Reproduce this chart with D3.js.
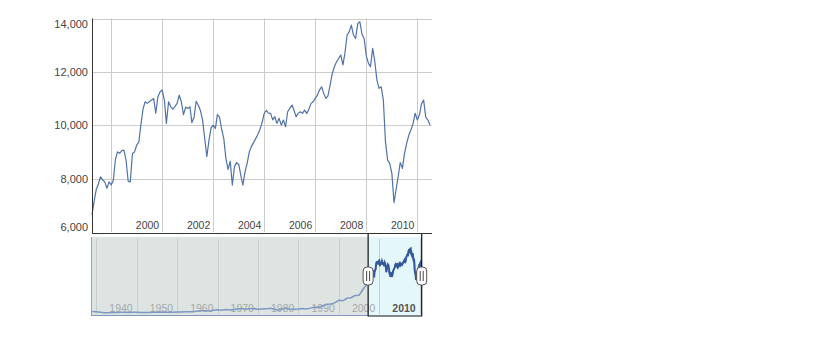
<!DOCTYPE html>
<html><head><meta charset="utf-8">
<script src="https://cdn.jsdelivr.net/npm/d3@7"></script>
<style>
html,body{margin:0;padding:0;background:#fff;}
svg{display:block;font-family:"Liberation Sans",Arial,sans-serif;}
</style></head>
<body><svg id="c" width="813" height="346"></svg>
<script>
// Monthly closes, April 1997 .. July 2010
const firstMonth = "1997-04";
const values = [
 6640,7150,7600,7800,8070,7950,7880,7640,7880,
 7760,7950,8700,9000,8950,9050,9070,8700,7900,7880,8940,9000,
 9260,9380,10000,10600,10880,10820,10880,10950,11000,10450,11070,11250,
 11320,10940,10070,10880,10700,10600,10700,10820,11130,10880,10400,10680,
 10630,10690,10100,10300,10900,10750,10550,10200,9500,8820,9445,9900,
 10000,9880,10400,10300,9850,9500,8750,8350,8650,7760,8450,8600,
 8530,8100,7760,8250,8570,9000,9200,9350,9500,9650,9850,10100,
 10450,10560,10450,10445,10200,10320,10070,10260,10007,10195,9944,10505,
 10632,10756,10569,10318,10445,10505,10445,10569,10445,10600,10819,10880,
 11007,11130,11318,11442,11194,11007,11100,11500,11940,12190,12380,12500,
 12630,12260,12700,13380,13500,13750,13380,13250,13816,13876,13400,13250,
 12600,12318,12191,12880,12400,11692,11382,11442,10943,9400,8700,8571,
 8198,7097,7573,8071,8600,8385,8944,9320,9633,9820,10071,10450,
 10195,10400,10800,10943,10300,10195,10007
];
// Long-range history for the overview strip (yearly)
const histYears = [1929,1930,1931,1932,1933,1934,1935,1936,1937,1938,1939,1940,1941,1942,1943,1944,1945,1946,1947,1948,1949,
 1950,1951,1952,1953,1954,1955,1956,1957,1958,1959,1960,1961,1962,1963,1964,1965,1966,1967,1968,1969,
 1970,1971,1972,1973,1974,1975,1976,1977,1978,1979,1980,1981,1982,1983,1984,1985,1986,1987,1988,1989,
 1990,1991,1992,1993,1994,1995,1996];
const histValues = [300,248,165,78,60,100,104,144,180,121,155,150,131,111,119,136,152,193,177,181,177,
 200,235,269,292,281,404,488,500,436,584,679,616,731,652,763,874,969,786,905,944,
 800,839,890,1020,851,616,852,1005,831,805,839,964,875,1047,1259,1212,1547,1896,1939,2169,
 2753,2634,3169,3301,3754,3834,5117];
const yTicks = [6000,8000,10000,12000,14000];
const xTickYears = [1998,2000,2002,2004,2006,2008,2010];
const xLabelYears = [2000,2002,2004,2006,2008,2010];
const navTickYears = [1930,1940,1950,1960,1970,1980,1990,2000,2010];
const navLabelYears = [1940,1950,1960,1970,1980,1990,2000,2010];

const parseM = d3.timeParse("%Y-%m");
const start = parseM(firstMonth);
const data = values.map((v,i)=>({date:d3.timeMonth.offset(start,i), value:v}));
const hist = histYears.map((y,i)=>({date:new Date(y,0,1), value:histValues[i]}));
const all = hist.concat(data);

const svg = d3.select("#c");
const L=92, R=430, T=18.5, B=232;

const x = d3.scaleTime().domain([data[0].date, data[data.length-1].date]).range([L,R]);
const y = d3.scaleLinear().domain([6000,14000]).range([B,T]);
const fmt = d3.format(",");

// gridlines
const g = svg.append("g");
g.selectAll("line.h").data(yTicks.filter(v=>v>6000)).join("line")
 .attr("x1",L).attr("x2",432).attr("y1",d=>Math.round(y(d))+0.5).attr("y2",d=>Math.round(y(d))+0.5)
 .attr("stroke","#cccccc");
g.selectAll("line.v").data(xTickYears).join("line")
 .attr("x1",d=>Math.round(x(new Date(d,0,1)))+0.5).attr("x2",d=>Math.round(x(new Date(d,0,1)))+0.5)
 .attr("y1",T).attr("y2",B).attr("stroke","#cccccc");

// y labels
const clampY = v => Math.min(Math.max(y(v), 24), 227);
svg.append("g").selectAll("text").data(yTicks).join("text")
 .attr("x",88).attr("y",d=>clampY(d)).attr("dy","0.36em")
 .attr("text-anchor","end").attr("font-size",11).attr("fill","#444")
 .text(d=>fmt(d));
// x labels
svg.append("g").selectAll("text").data(xLabelYears).join("text")
 .attr("x",d=>x(new Date(d,0,1))-3).attr("y",229)
 .attr("text-anchor","end").attr("font-size",10.5).attr("fill","#444")
 .text(d=>d);

// line
svg.append("path").datum(data)
 .attr("fill","none").attr("stroke","#5072a8").attr("stroke-width",1.2)
 .attr("stroke-linejoin","round")
 .attr("d",d3.line().x(d=>x(d.date)).y(d=>y(d.value)));

// axes lines
svg.append("line").attr("x1",L+0.5).attr("x2",L+0.5).attr("y1",T).attr("y2",234).attr("stroke","#333");
svg.append("line").attr("x1",L).attr("x2",432).attr("y1",233.5).attr("y2",233.5).attr("stroke","#333");

// ---- overview navigator ----
const NL=91, NR=421.7, NT=237, NB=316;
const nx = d3.scaleTime().domain([new Date(1928,8,15), data[data.length-1].date]).range([NL,NR]);
const ny = d3.scaleLinear().domain([0,14000]).range([313,248]);
const s0 = nx(data[0].date), s1 = nx(data[data.length-1].date);

svg.append("rect").attr("x",NL).attr("y",NT).attr("width",s0-NL).attr("height",NB-NT).attr("fill","#dde4e2");
svg.append("rect").attr("x",s0).attr("y",NT).attr("width",s1-s0).attr("height",NB-NT).attr("fill","#e4f7fb");
svg.append("g").selectAll("line").data(navTickYears).join("line")
 .attr("x1",d=>Math.round(nx(new Date(d,0,1)))+0.5).attr("x2",d=>Math.round(nx(new Date(d,0,1)))+0.5)
 .attr("y1",NT+2).attr("y2",NB-2).attr("stroke","#c7cecc");
svg.append("g").selectAll("text").data(navLabelYears).join("text")
 .attr("x",d=>nx(new Date(d,0,1))-4).attr("y",312)
 .attr("text-anchor","end").attr("font-size",10.5)
 .attr("fill",d=>d===2010?"#555":"#a5a9a8").attr("font-weight",d=>d===2010?"bold":"normal")
 .text(d=>d);
const nline = d3.line().x(d=>nx(d.date)).y(d=>ny(d.value));
svg.append("path").datum(all).attr("fill","none").attr("stroke","#7e98c4").attr("stroke-width",1.5).attr("d",nline);
svg.append("defs").append("clipPath").attr("id","sel").append("rect")
 .attr("x",s0).attr("y",NT).attr("width",s1-s0).attr("height",NB-NT);
svg.append("path").datum(data).attr("clip-path","url(#sel)").attr("fill","none")
 .attr("stroke","#34599a").attr("stroke-width",2).attr("d",nline);
// borders
svg.append("line").attr("x1",NL+0.5).attr("x2",NL+0.5).attr("y1",NT).attr("y2",NB).attr("stroke","#9aa3a8");
svg.append("line").attr("x1",NL).attr("x2",s0).attr("y1",NB-0.5).attr("y2",NB-0.5).attr("stroke","#8196b8");
svg.append("path").attr("fill","none").attr("stroke","#111").attr("stroke-width",1.2)
 .attr("d",`M${s0},${NT-3}V${NB}H${s1}V${NT-3}`);
// handles
[s0,s1].forEach(cx=>{
  const hg = svg.append("g");
  hg.append("rect").attr("x",cx-5).attr("y",267).attr("width",10).attr("height",18).attr("rx",4)
    .attr("fill","#fff").attr("stroke","#555");
  hg.append("line").attr("x1",cx-1.5).attr("x2",cx-1.5).attr("y1",271).attr("y2",281).attr("stroke","#444");
  hg.append("line").attr("x1",cx+1.5).attr("x2",cx+1.5).attr("y1",271).attr("y2",281).attr("stroke","#444");
});
</script></body></html>
